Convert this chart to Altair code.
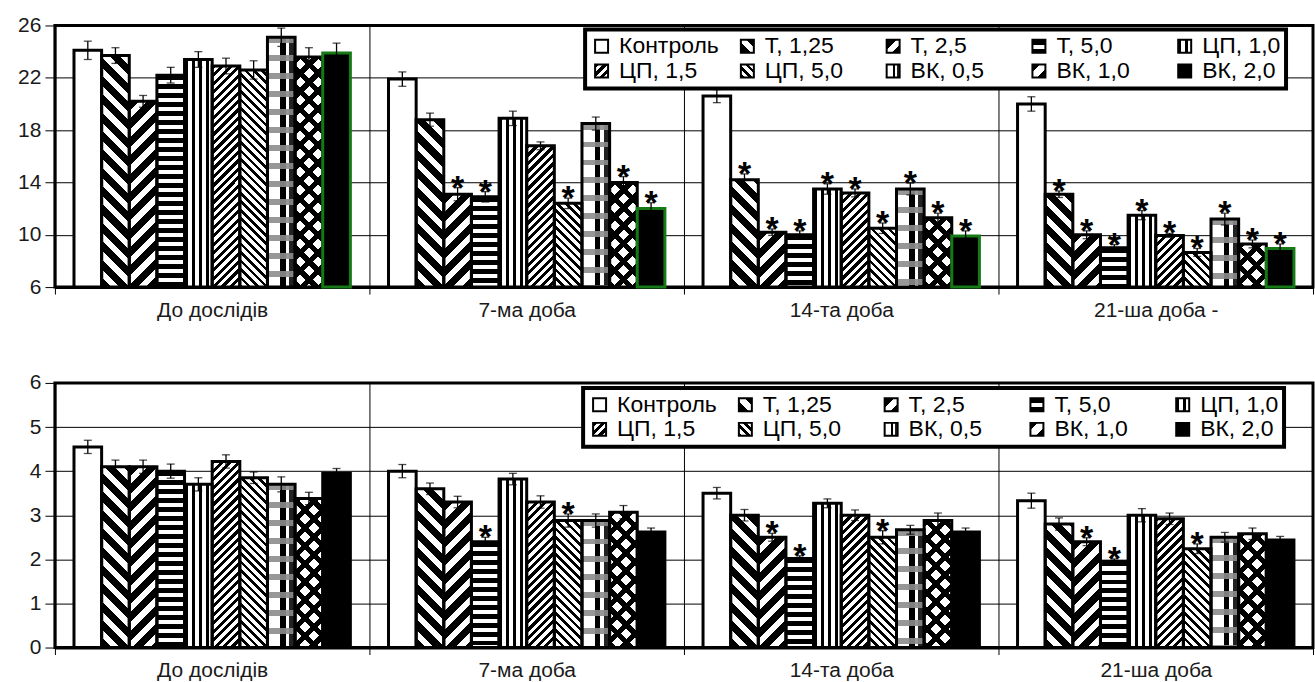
import json
import math
import altair as alt

# ---------------------------------------------------------------- data
series = ["Контроль", "Т, 1,25", "Т, 2,5", "Т, 5,0", "ЦП, 1,0",
          "ЦП, 1,5", "ЦП, 5,0", "ВК, 0,5", "ВК, 1,0", "ВК, 2,0"]

periods_top = ["До дослідів", "7-ма доба", "14-та доба", "21-ша доба -"]
periods_bottom = ["До дослідів", "7-ма доба", "14-та доба", "21-ша доба"]

# upper panel: means, errors, significance marks (one row per period)
top_mean = [
    [24.1, 23.7, 20.2, 22.2, 23.4, 22.9, 22.6, 25.1, 23.6, 23.9],
    [21.9, 18.8, 13.1, 12.9, 18.9, 16.8, 12.4, 18.5, 14.0, 12.0],
    [20.6, 14.2, 10.2, 10.0, 13.5, 13.2, 10.5, 13.5, 11.3, 9.9],
    [20.0, 13.1, 10.0, 9.0, 11.5, 9.95, 8.65, 11.2, 9.3, 8.95],
]
top_err = [
    [0.7, 0.6, 0.45, 0.6, 0.6, 0.6, 0.7, 0.7, 0.7, 0.75],
    [0.55, 0.5, 0.5, 0.4, 0.55, 0.3, 0.4, 0.5, 0.45, 0.45],
    [0.5, 0.45, 0.25, 0.3, 0.4, 0.3, 0.4, 0.45, 0.35, 0.4],
    [0.55, 0.25, 0.3, 0.25, 0.35, 0.15, 0.3, 0.45, 0.3, 0.35],
]
top_sig = [
    [0, 0, 0, 0, 0, 0, 0, 0, 0, 0],
    [0, 0, 1, 1, 0, 0, 1, 0, 1, 1],
    [0, 1, 1, 1, 1, 1, 1, 1, 1, 1],
    [0, 1, 1, 1, 1, 1, 1, 1, 1, 1],
]

# lower panel
bot_mean = [
    [4.55, 4.1, 4.1, 4.0, 3.7, 4.22, 3.85, 3.7, 3.38, 3.95],
    [4.0, 3.6, 3.3, 2.4, 3.82, 3.3, 2.88, 2.88, 3.07, 2.62],
    [3.5, 3.0, 2.5, 2.02, 3.27, 3.0, 2.5, 2.67, 2.88, 2.62],
    [3.33, 2.8, 2.4, 1.95, 3.0, 2.92, 2.24, 2.5, 2.58, 2.44],
]
bot_err = [
    [0.15, 0.15, 0.15, 0.16, 0.15, 0.15, 0.13, 0.17, 0.14, 0.11],
    [0.15, 0.13, 0.13, 0.1, 0.13, 0.14, 0.15, 0.15, 0.15, 0.09],
    [0.13, 0.13, 0.09, 0.06, 0.1, 0.12, 0.15, 0.1, 0.17, 0.09],
    [0.17, 0.14, 0.09, 0.06, 0.15, 0.13, 0.11, 0.11, 0.13, 0.08],
]
bot_sig = [
    [0, 0, 0, 0, 0, 0, 0, 0, 0, 0],
    [0, 0, 0, 1, 0, 0, 1, 0, 0, 0],
    [0, 0, 1, 1, 0, 0, 1, 0, 0, 0],
    [0, 0, 1, 1, 0, 0, 1, 0, 0, 0],
]

# ---------------------------------------------------------------- layout
FONT = "Liberation Sans"
PLOT_W = 1260
TOP_H, BOT_H = 262, 265
GROUP_W = PLOT_W / 4
OFFSET_PAD = 0.69
BAR_W = GROUP_W / (10 + 2 * OFFSET_PAD)

# ---------------------------------------------------------------- hatch fills
CLEAR = "rgba(0,0,0,0)"


def stripes(kind, period, dark_frac, w, h, dark="black", light="white"):
    """Linear gradient with hard stops that imitates a hatch pattern."""
    if kind == "h":
        p1, p2, span = (0, 0), (0, 1), h
    elif kind == "v":
        p1, p2, span = (0, 0), (1, 0), w
    else:
        k = (w + h) / (w * w + h * h)
        span = (w + h) / math.sqrt(2)
        if kind == "fwd":
            p1, p2 = (0, 0), (k * w, k * h)
        else:
            p1, p2 = (0, 1), (k * w, 1 - k * h)
    n = max(span / period, 1.0)
    stops = []
    i = 0
    while i < n:
        a = i / n
        b = min((i + dark_frac) / n, 1.0)
        c = min((i + 1) / n, 1.0)
        stops += [(a, dark), (b, dark), (b, light), (c, light)]
        i += 1
    return {
        "gradient": "linear",
        "x1": round(p1[0], 5), "y1": round(p1[1], 5),
        "x2": round(p2[0], 5), "y2": round(p2[1], 5),
        "stops": [{"offset": round(o, 5), "color": col} for o, col in stops],
    }


def columns_fill():
    stops = [(0, "white"), (0.46, "white"), (0.46, "black"), (0.66, "black"),
             (0.66, "white"), (0.78, "white"), (0.78, "#222"), (1, "#222")]
    return {"gradient": "linear", "x1": 0, "y1": 0, "x2": 1, "y2": 0,
            "stops": [{"offset": o, "color": c} for o, c in stops]}


def base_fill(name, w, h):
    if name == "Контроль":
        return "white"
    if name == "Т, 1,25":
        return stripes("back", 13, 0.55, w, h)
    if name == "Т, 2,5":
        return stripes("fwd", 13, 0.55, w, h)
    if name == "Т, 5,0":
        return stripes("h", 9, 0.55, w, h)
    if name == "ЦП, 1,0":
        return stripes("v", 7, 0.45, w, h)
    if name == "ЦП, 1,5":
        return stripes("fwd", 6, 0.5, w, h)
    if name == "ЦП, 5,0":
        return stripes("back", 6, 0.42, w, h)
    if name == "ВК, 0,5":
        return columns_fill()
    if name == "ВК, 1,0":
        return stripes("fwd", 12.7, 0.4, w, h)
    return "black"


def overlay_fill(name, w, h):
    if name == "ВК, 0,5":
        return stripes("h", 18, 0.33, w, h, dark="rgba(140,140,140,0.9)", light=CLEAR)
    if name == "ВК, 1,0":
        return stripes("back", 12.7, 0.4, w, h, dark="black", light=CLEAR)
    return None


def build_rows(labels, means, errs, sigs, base, ppu, green_last):
    rows, over = [], []
    for gi, lab in enumerate(labels):
        for si, s in enumerate(series):
            v, e = means[gi][si], errs[gi][si]
            h = (v - base) * ppu
            edge = "#157a15" if (green_last and s == "ВК, 2,0") else "black"
            row = {"period": lab, "series": s, "value": v,
                   "lo": round(v - e, 3), "hi": round(v + e, 3),
                   "sig": sigs[gi][si], "fill": base_fill(s, BAR_W, h),
                   "edge": edge}
            rows.append(row)
            ov = overlay_fill(s, BAR_W, h)
            if ov is not None:
                over.append({"period": lab, "series": s, "value": v, "fill": ov})
    return rows, over


def legend_range():
    out = []
    for s in series:
        f = base_fill(s, 13, 13)
        out.append(f if isinstance(f, str) else alt.ExprRef(expr=json.dumps(f)))
    return out


def panel(labels, means, errs, sigs, base, top, step, height, lx, ly, green_last):
    ppu = height / (top - base)
    rows, over = build_rows(labels, means, errs, sigs, base, ppu, green_last)

    x_axis = alt.Axis(title=None, tickBand="extent", grid=True, gridColor="black",
                      gridWidth=1, gridOpacity=1, tickColor="black", tickSize=7,
                      domainColor="black", domainWidth=3, labelAngle=0,
                      labelFontSize=21, labelColor="#1a1a1a", labelPadding=5)
    y_axis = alt.Axis(title=None, values=list(range(base, top + 1, step)),
                      grid=True, gridColor="black", gridWidth=1, gridOpacity=1,
                      tickColor="black", tickSize=10, domainColor="black",
                      domainWidth=2, labelFontSize=21, labelColor="#1a1a1a",
                      labelPadding=4, minExtent=48, maxExtent=48)
    yscale = alt.Scale(domain=[base, top], nice=False, zero=False)

    x = alt.X("period:N", sort=labels, axis=x_axis,
              scale=alt.Scale(paddingInner=0, paddingOuter=0))
    xo = alt.XOffset("series:N", sort=series,
                     scale=alt.Scale(paddingInner=0, paddingOuter=OFFSET_PAD))

    def yq(field):
        return alt.Y(f"{field}:Q", scale=yscale, axis=y_axis)

    data = alt.Data(values=rows)

    bars = alt.Chart(data).mark_bar(strokeWidth=0).encode(
        x=x, xOffset=xo, y=yq("value"), y2=alt.datum(base),
        fill=alt.Fill("fill:N", scale=None),
    )
    hatch2 = alt.Chart(alt.Data(values=over)).mark_bar(strokeWidth=0).encode(
        x=x, xOffset=xo, y=yq("value"), y2=alt.datum(base),
        fill=alt.Fill("fill:N", scale=None),
    )
    outline = alt.Chart(data).mark_bar(fillOpacity=0, strokeWidth=3).encode(
        x=x, xOffset=xo, y=yq("value"), y2=alt.datum(base),
        stroke=alt.Stroke("edge:N", scale=None),
    )
    whisk = alt.Chart(data).mark_rule(color="black", strokeWidth=1.3).encode(
        x=x, xOffset=xo, y=yq("lo"), y2="hi:Q")
    cap_lo = alt.Chart(data).mark_tick(color="black", size=8, thickness=1.3).encode(
        x=x, xOffset=xo, y=yq("lo"))
    cap_hi = alt.Chart(data).mark_tick(color="black", size=8, thickness=1.3).encode(
        x=x, xOffset=xo, y=yq("hi"))
    stars = alt.Chart(data).transform_filter(alt.datum.sig == 1).mark_text(
        text="*", fontSize=34, fontWeight="bold", color="black",
        baseline="alphabetic", dy=11, font=FONT,
    ).encode(x=x, xOffset=xo, y=yq("hi"))

    legend_src = alt.Chart(alt.Data(values=[{"series": s} for s in series])).mark_bar(
        stroke="black", strokeWidth=2
    ).encode(
        y=alt.datum(base), y2=alt.datum(base),
        color=alt.Color(
            "series:N",
            scale=alt.Scale(domain=series, range=legend_range()),
            legend=alt.Legend(
                title=None, orient="none", legendX=lx, legendY=ly,
                direction="horizontal", columns=5, gridAlign="all",
                columnPadding=17, rowPadding=1, padding=5,
                symbolType="square", symbolSize=169,
                symbolStrokeColor="black", symbolStrokeWidth=2,
                labelFontSize=23, labelFont=FONT, labelColor="black",
                labelOffset=6, fillColor="white", strokeColor="black",
            ),
        ),
    )

    return alt.layer(bars, hatch2, outline, whisk, cap_lo, cap_hi, stars,
                     legend_src).properties(width=PLOT_W, height=height)


top_chart = panel(periods_top, top_mean, top_err, top_sig, 6, 26, 2, TOP_H,
                  531, 4, True)
bottom_chart = panel(periods_bottom, bot_mean, bot_err, bot_sig, 0, 6, 1, BOT_H,
                     529, 5, False)

chart = (
    alt.vconcat(top_chart, bottom_chart, spacing=48)
    .resolve_scale(x="independent", y="independent", color="independent")
    .properties(padding={"left": 5, "top": 12, "right": 0, "bottom": 0},
                background="white")
    .configure(font=FONT)
    .configure_view(stroke="black", strokeWidth=3)
    .configure_legend(strokeWidth=4)
)

chart.save("out.html", embed_options={"renderer": "svg", "actions": False})
